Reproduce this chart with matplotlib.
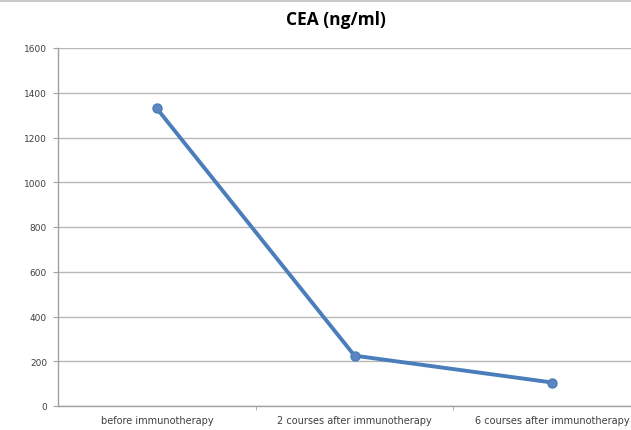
import matplotlib
matplotlib.use("Agg")
import matplotlib.pyplot as plt
from matplotlib.lines import Line2D

categories = ["before immunotherapy", "2 courses after immunotherapy", "6 courses after immunotherapy"]
cea_values = [1330, 225, 105]
y_ticks = [0, 200, 400, 600, 800, 1000, 1200, 1400, 1600]

W, H = 631, 431
fig = plt.figure(figsize=(W / 100, H / 100), dpi=100)
fig.patch.set_facecolor("white")

# plot area (extends slightly past the right edge of the canvas)
ax = fig.add_axes([58 / W, 24 / H, (651 - 58) / W, (407 - 49) / H])
ax.set_facecolor("white")

x = list(range(len(categories)))
ax.plot(x, cea_values, color="#4a7ebb", linewidth=2.8, marker="o",
        markersize=6.5, markerfacecolor="#5b86c2", markeredgecolor="#4a7ebb",
        solid_joinstyle="round", zorder=3)

ax.set_xlim(-0.5, len(categories) - 0.5)
ax.set_ylim(0, 1600)
ax.set_yticks(y_ticks)
ax.set_yticklabels([str(v) for v in y_ticks], fontsize=6.5, color="#404040")
ax.set_xticks(x)
ax.set_xticklabels(categories, fontsize=7, color="#404040")
# category boundary ticks
ax.set_xticks([0.5, 1.5], minor=True)
ax.tick_params(axis="x", which="major", length=0, pad=6.5)
ax.tick_params(axis="x", which="minor", length=3, color="#a0a0a0", direction="out")
ax.tick_params(axis="y", length=3.6, color="#a0a0a0", pad=4.3)

ax.yaxis.grid(True, color="#b8b8b8", linewidth=1.0)
ax.set_axisbelow(True)
for side in ("top", "right"):
    ax.spines[side].set_visible(False)
for side in ("left", "bottom"):
    ax.spines[side].set_color("#a0a0a0")
    ax.spines[side].set_linewidth(1.0)

fig.text(336 / W, 1 - 20 / H, "CEA (ng/ml)", ha="center", va="center",
         fontsize=12.5, fontweight="bold", color="#000000", family="Open Sans")

# thin frame line at the top of the canvas
fig.add_artist(Line2D([0, 1], [1 - 1.5 / H, 1 - 1.5 / H], color="#c0c0c0",
                      linewidth=1.2, transform=fig.transFigure))

fig.savefig("out.png", dpi=100, facecolor="white")
